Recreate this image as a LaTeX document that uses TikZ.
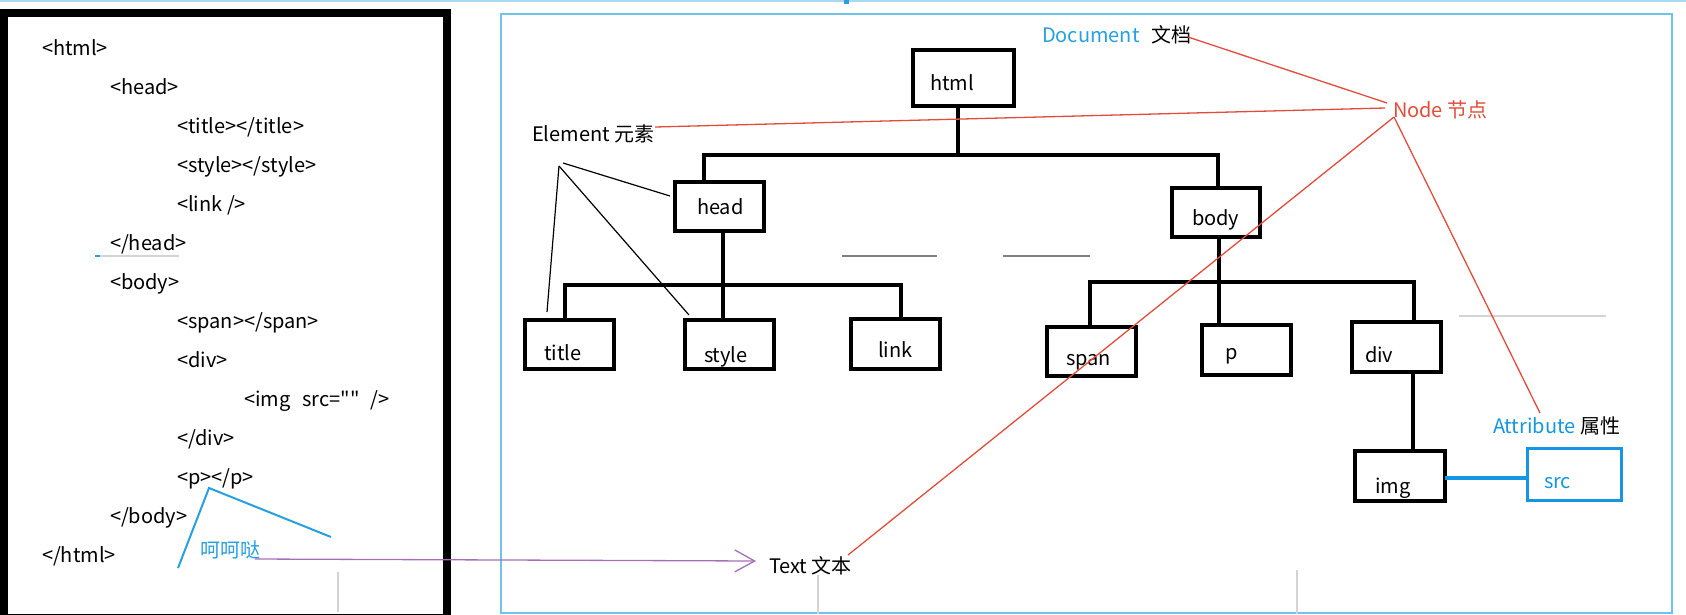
\documentclass[tikz,border=0pt]{standalone}
\usepackage{fontspec}
\setmainfont{Noto Sans CJK SC}
\newfontfamily\rawfont{Noto Sans CJK SC}
\usetikzlibrary{arrows.meta}
\definecolor{nodered}{RGB}{226,76,58}
\definecolor{docblue}{RGB}{38,160,222}
\definecolor{srcblue}{RGB}{20,150,226}
\definecolor{framblue}{RGB}{110,196,236}
\definecolor{topblue}{RGB}{170,218,242}
\definecolor{txtpurple}{RGB}{165,110,185}
\definecolor{fadegray}{RGB}{128,128,128}
\definecolor{palegray}{RGB}{212,212,212}
\begin{document}
\begin{tikzpicture}[x=1pt,y=-1pt,
  every node/.style={font=\fontsize{20}{24}\selectfont, inner sep=0pt, outer sep=0pt},
  code/.style={anchor=base west},
  lbl/.style={anchor=base west},
  tbox/.style={draw, line width=4pt, minimum width=89pt, minimum height=49pt},
  conn/.style={line width=3.6pt},
  redline/.style={draw=nodered, line width=1.3pt},
  elline/.style={draw=black, line width=1.2pt},
  caret/.style={draw=docblue, line width=2pt},
  faint/.style={draw=fadegray, line width=1.6pt},
  pale/.style={draw=palegray, line width=1.2pt}]
\useasboundingbox (0,0) rectangle (1686,614);
% top strip and frames
\draw[draw=topblue, line width=1.6pt] (0,0.8) -- (1686,0.8);
\fill[docblue] (844,0) rectangle (849,4);
\fill[docblue] (0,309) rectangle (3,318);
\draw[line width=8pt] (3.5,13) rectangle (447,618);
\draw[draw=framblue, line width=2pt] (501,13.5) rectangle (1672,613);
% faint screen artefacts
\draw[pale] (95,256) -- (179,256);
\draw[draw=docblue, line width=1.2pt] (95,256) -- (100,256);
\draw[faint] (842,256) -- (937,256);
\draw[faint] (1003,256) -- (1090,256);
\draw[pale] (1459,316) -- (1606,316);
\draw[pale] (338,572) -- (338,612);
\draw[pale] (818,575) -- (818,614);
\draw[pale] (1297,570) -- (1297,614);

% HTML source
\node[code] (c1) at (42,55) {<html>};
\node[code] (c2) at (110,94) {<head>};
\node[code] (c3) at (177,133) {<title></title>};
\node[code] (c4) at (177,172) {<style></style>};
\node[code] (c5) at (177,211) {<link />};
\node[code] (c6) at (110,250) {</head>};
\node[code] (c7) at (110,289) {<body>};
\node[code] (c8) at (177,328) {<span></span>};
\node[code] (c9) at (177,367) {<div>};
\node[code] (c10) at (244,406) {<img\hspace{12pt}src={\rawfont""}\hspace{11pt}/>};
\node[code] (c11) at (177,445) {</div>};
\node[code] (c12) at (177,484) {<p></p>};
\node[code] (c13) at (110,523) {</body>};
\node[code] (c14) at (42,562) {</html>};

% tree boxes
\node[tbox, minimum width=101pt, minimum height=56pt] (html) at (963.5,78) {};
\node[tbox] (head) at (719.5,206.5) {};
\node[tbox, minimum width=88pt] (body) at (1216,212.5) {};
\node[tbox] (title) at (569.5,344.5) {};
\node[tbox] (style) at (729.5,344.5) {};
\node[tbox, minimum height=50pt] (link) at (895.5,344) {};
\node[tbox] (span) at (1091.5,351.5) {};
\node[tbox, minimum height=50pt] (p) at (1246.5,350) {};
\node[tbox, minimum height=50pt] (div) at (1396.5,347) {};
\node[tbox, minimum width=90pt, minimum height=50pt] (img) at (1400,476) {};
\node[draw=srcblue, line width=3pt, minimum width=94pt, minimum height=52pt] (src) at (1574.5,474.5) {};

% box texts
\node[lbl] (thtml) at (930,90) {html};
\node[lbl] (thead) at (697,214) {head};
\node[lbl] (tbody) at (1192,225) {body};
\node[lbl] (ttitle) at (544,360) {title};
\node[lbl] (tstyle) at (704,362) {style};
\node[lbl] (tlink) at (878,357) {link};
\node[lbl] (tspan) at (1066,365) {span};
\node[lbl] (tp) at (1225,359) {p};
\node[lbl] (tdiv) at (1365,362) {div};
\node[lbl] (timg) at (1375,493) {img};
\node[lbl, text=srcblue] (tsrc) at (1544,488) {src};

% tree connectors
\coordinate (b1) at (958,155);
\coordinate (b1L) at (704,155);
\coordinate (b1R) at (1218,155);
\draw[conn] (html.south -| b1) -- (b1);
\draw[conn] (head.north -| b1L) -- (b1L) -- (b1R) -- (body.north -| b1R);
\coordinate (b2) at (723,285);
\coordinate (b2L) at (565,285);
\coordinate (b2R) at (901,285);
\draw[conn] (head.south -| b2) -- (style.north -| b2);
\draw[conn] (title.north -| b2L) -- (b2L) -- (b2R) -- (link.north -| b2R);
\coordinate (b3) at (1219,282);
\coordinate (b3L) at (1090,282);
\coordinate (b3R) at (1414,282);
\draw[conn] (body.south -| b3) -- (p.north -| b3);
\draw[conn] (span.north -| b3L) -- (b3L) -- (b3R) -- (div.north -| b3R);
\coordinate (b4) at (1413,400);
\draw[conn] (div.south -| b4) -- (img.north -| b4);
\coordinate (b5) at (1480,478);
\draw[draw=srcblue, line width=3.2pt] (img.east |- b5) -- (src.west |- b5);

% labels
\node[lbl] (doclbl) at (1042,42) {\textcolor{docblue}{Document}\hspace{12pt}文档};
\node[lbl, text=nodered] (nodelbl) at (1393,117) {Node 节点};
\node[lbl] (ellbl) at (532,141) {Element 元素};
\node[lbl] (attrlbl) at (1493,433) {\textcolor{srcblue}{Attribute} 属性};
\node[lbl] (textlbl) at (769,573) {Text 文本};
\node[lbl, text=docblue] (hhd) at (200,557) {呵呵哒};

% Element pointer lines
\coordinate (elA) at (563,163);
\coordinate (elB) at (559,166);
\coordinate (elHead) at (670,196);
\coordinate (elTitle) at (547,312);
\coordinate (elStyle) at (689,315);
\draw[elline] (elA) -- (elHead);
\draw[elline] (elB) -- (elTitle);
\draw[elline] (elB) -- (elStyle);

% caret under <p></p>
\coordinate (ca) at (178,568);
\coordinate (cb) at (209,488);
\coordinate (cc) at (331,537);
\draw[caret, line join=miter] (ca) -- (cb) -- (cc);

% purple arrow to Text
\coordinate (pa) at (255,559);
\coordinate (pb) at (756,561);
\draw[draw=txtpurple, line width=1.3pt, -{Straight Barb[length=20pt,width=22pt]}] (pa) -- (pb);

% red lines to Node
\coordinate (nA) at (1387,103);
\coordinate (nB) at (1385,108);
\coordinate (nC) at (1394,117);
\coordinate (d1) at (1188,37);
\coordinate (e1) at (655,127);
\coordinate (t1) at (848,555);
\coordinate (a1) at (1540,413);
\draw[redline] (d1) -- (nA);
\draw[redline] (e1) -- (nB);
\draw[redline] (nC) -- (t1);
\draw[redline] (nC) -- (a1);
\end{tikzpicture}
\end{document}
